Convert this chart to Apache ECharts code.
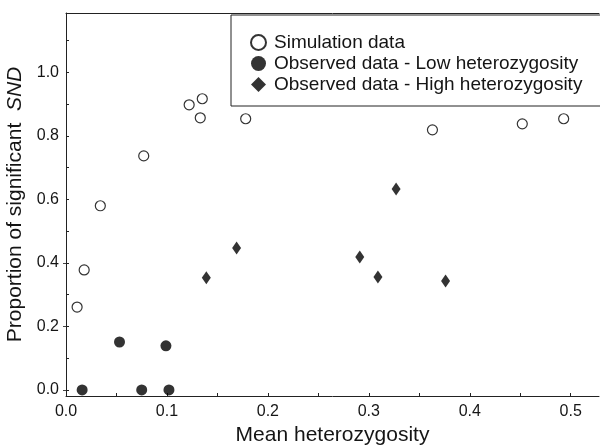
<!DOCTYPE html>
<html><head><meta charset="utf-8">
<script src="https://cdn.jsdelivr.net/npm/echarts@6/dist/echarts.min.js"></script>
<style>html,body{margin:0;padding:0;background:#fff}#c{width:600px;height:446px}</style>
</head><body><div id="c"></div>
<script>
var simulationX = [0.011, 0.018, 0.034, 0.077, 0.122, 0.135, 0.133, 0.178, 0.363, 0.452, 0.493];
var simulationY = [0.261, 0.378, 0.580, 0.737, 0.898, 0.917, 0.857, 0.854, 0.819, 0.838, 0.854];
var lowX = [0.016, 0.053, 0.075, 0.099, 0.102];
var lowY = [0.000, 0.151, 0.000, 0.139, 0.000];
var highX = [0.139, 0.169, 0.291, 0.309, 0.327, 0.376];
var highY = [0.353, 0.447, 0.419, 0.356, 0.633, 0.343];
var xTickLabels = [0, 0.1, 0.2, 0.3, 0.4, 0.5];
var xMinorTicks = [0, 0.05, 0.1, 0.15, 0.2, 0.25, 0.3, 0.35, 0.4, 0.45, 0.5];
var yTickLabels = [0, 0.2, 0.4, 0.6, 0.8, 1.0];
var yMinorTicks = [0, 0.1, 0.2, 0.3, 0.4, 0.5, 0.6, 0.7, 0.8, 0.9, 1.0, 1.1];
var seriesNames = ['Simulation data', 'Observed data - Low heterozygosity', 'Observed data - High heterozygosity'];

function pairs(xs, ys){ return xs.map(function(x,i){ return [x, ys[i]]; }); }
var FONT = 'Liberation Sans, Arial, sans-serif';
var INK = '#151515';
var chart = echarts.init(document.getElementById('c'));
chart.setOption({
  backgroundColor: '#fff',
  animation: false,
  textStyle: {fontFamily: FONT, color: INK},
  grid: {left: 66, right: 1, top: 13, bottom: 50, outerBoundsMode: 'none', containLabel: false},
  legend: {
    orient: 'vertical', left: 231, top: 15,
    padding: [18, 40, 12, 19], itemGap: 2, itemWidth: 15, itemHeight: 15,
    borderColor: '#222', borderWidth: 1, backgroundColor: '#fff',
    textStyle: {fontSize: 19, fontFamily: FONT, color: INK, padding: [0,0,0,3]},
    data: seriesNames
  },
  xAxis: [{
    type: 'value', min: 0, max: 0.528, position: 'bottom',
    name: 'Mean heterozygosity', nameLocation: 'middle', nameGap: 26,
    nameTextStyle: {fontSize: 21, color: INK, fontFamily: FONT},
    axisLine: {show: true, onZero: false, lineStyle: {color: '#222', width: 1}},
    axisTick: {show: true, inside: true, length: 3, customValues: xMinorTicks, lineStyle: {color: '#222'}},
    axisLabel: {show: true, customValues: xTickLabels, fontSize: 16, margin: 8, color: INK,
      formatter: function(v){ return v.toFixed(1); }},
    splitLine: {show: false}
  }, {
    type: 'value', min: 0, max: 0.528, position: 'top',
    axisLine: {show: true, onZero: false, lineStyle: {color: '#222', width: 1}},
    axisTick: {show: false}, axisLabel: {show: false}, splitLine: {show: false}
  }],
  yAxis: [{
    type: 'value', min: -0.019, max: 1.187, position: 'left',
    name: '{a|Proportion of significant  }{b|SND}', nameLocation: 'middle', nameGap: 37,
    nameTextStyle: {fontSize: 21, color: INK, fontFamily: FONT,
      rich: {a: {fontSize: 21, fontFamily: FONT, color: INK},
             b: {fontSize: 21, fontFamily: FONT, color: INK, fontStyle: 'italic'}}},
    axisLine: {show: true, onZero: false, lineStyle: {color: '#222', width: 1}},
    axisTick: {show: true, inside: true, length: 3, customValues: yMinorTicks, lineStyle: {color: '#222'}},
    axisLabel: {show: true, customValues: yTickLabels, fontSize: 16, margin: 7, color: INK,
      formatter: function(v){ return v.toFixed(1); }},
    splitLine: {show: false}
  }, {
    type: 'value', min: -0.019, max: 1.187, position: 'right',
    axisLine: {show: false},
    axisTick: {show: true, inside: true, length: 3, customValues: [0, 0.2, 0.4], lineStyle: {color: '#444'}},
    axisLabel: {show: false}, splitLine: {show: false}
  }],
  series: [{
    name: seriesNames[0], type: 'scatter', symbol: 'circle', symbolSize: 10,
    itemStyle: {color: '#fff', borderColor: '#000', borderWidth: 1.2},
    data: pairs(simulationX, simulationY)
  }, {
    name: seriesNames[1], type: 'scatter', symbol: 'circle', symbolSize: 11,
    itemStyle: {color: '#000'},
    data: pairs(lowX, lowY)
  }, {
    name: seriesNames[2], type: 'scatter', symbol: 'diamond', symbolSize: [9, 13],
    itemStyle: {color: '#000'},
    data: pairs(highX, highY)
  }]
});
</script></body></html>
